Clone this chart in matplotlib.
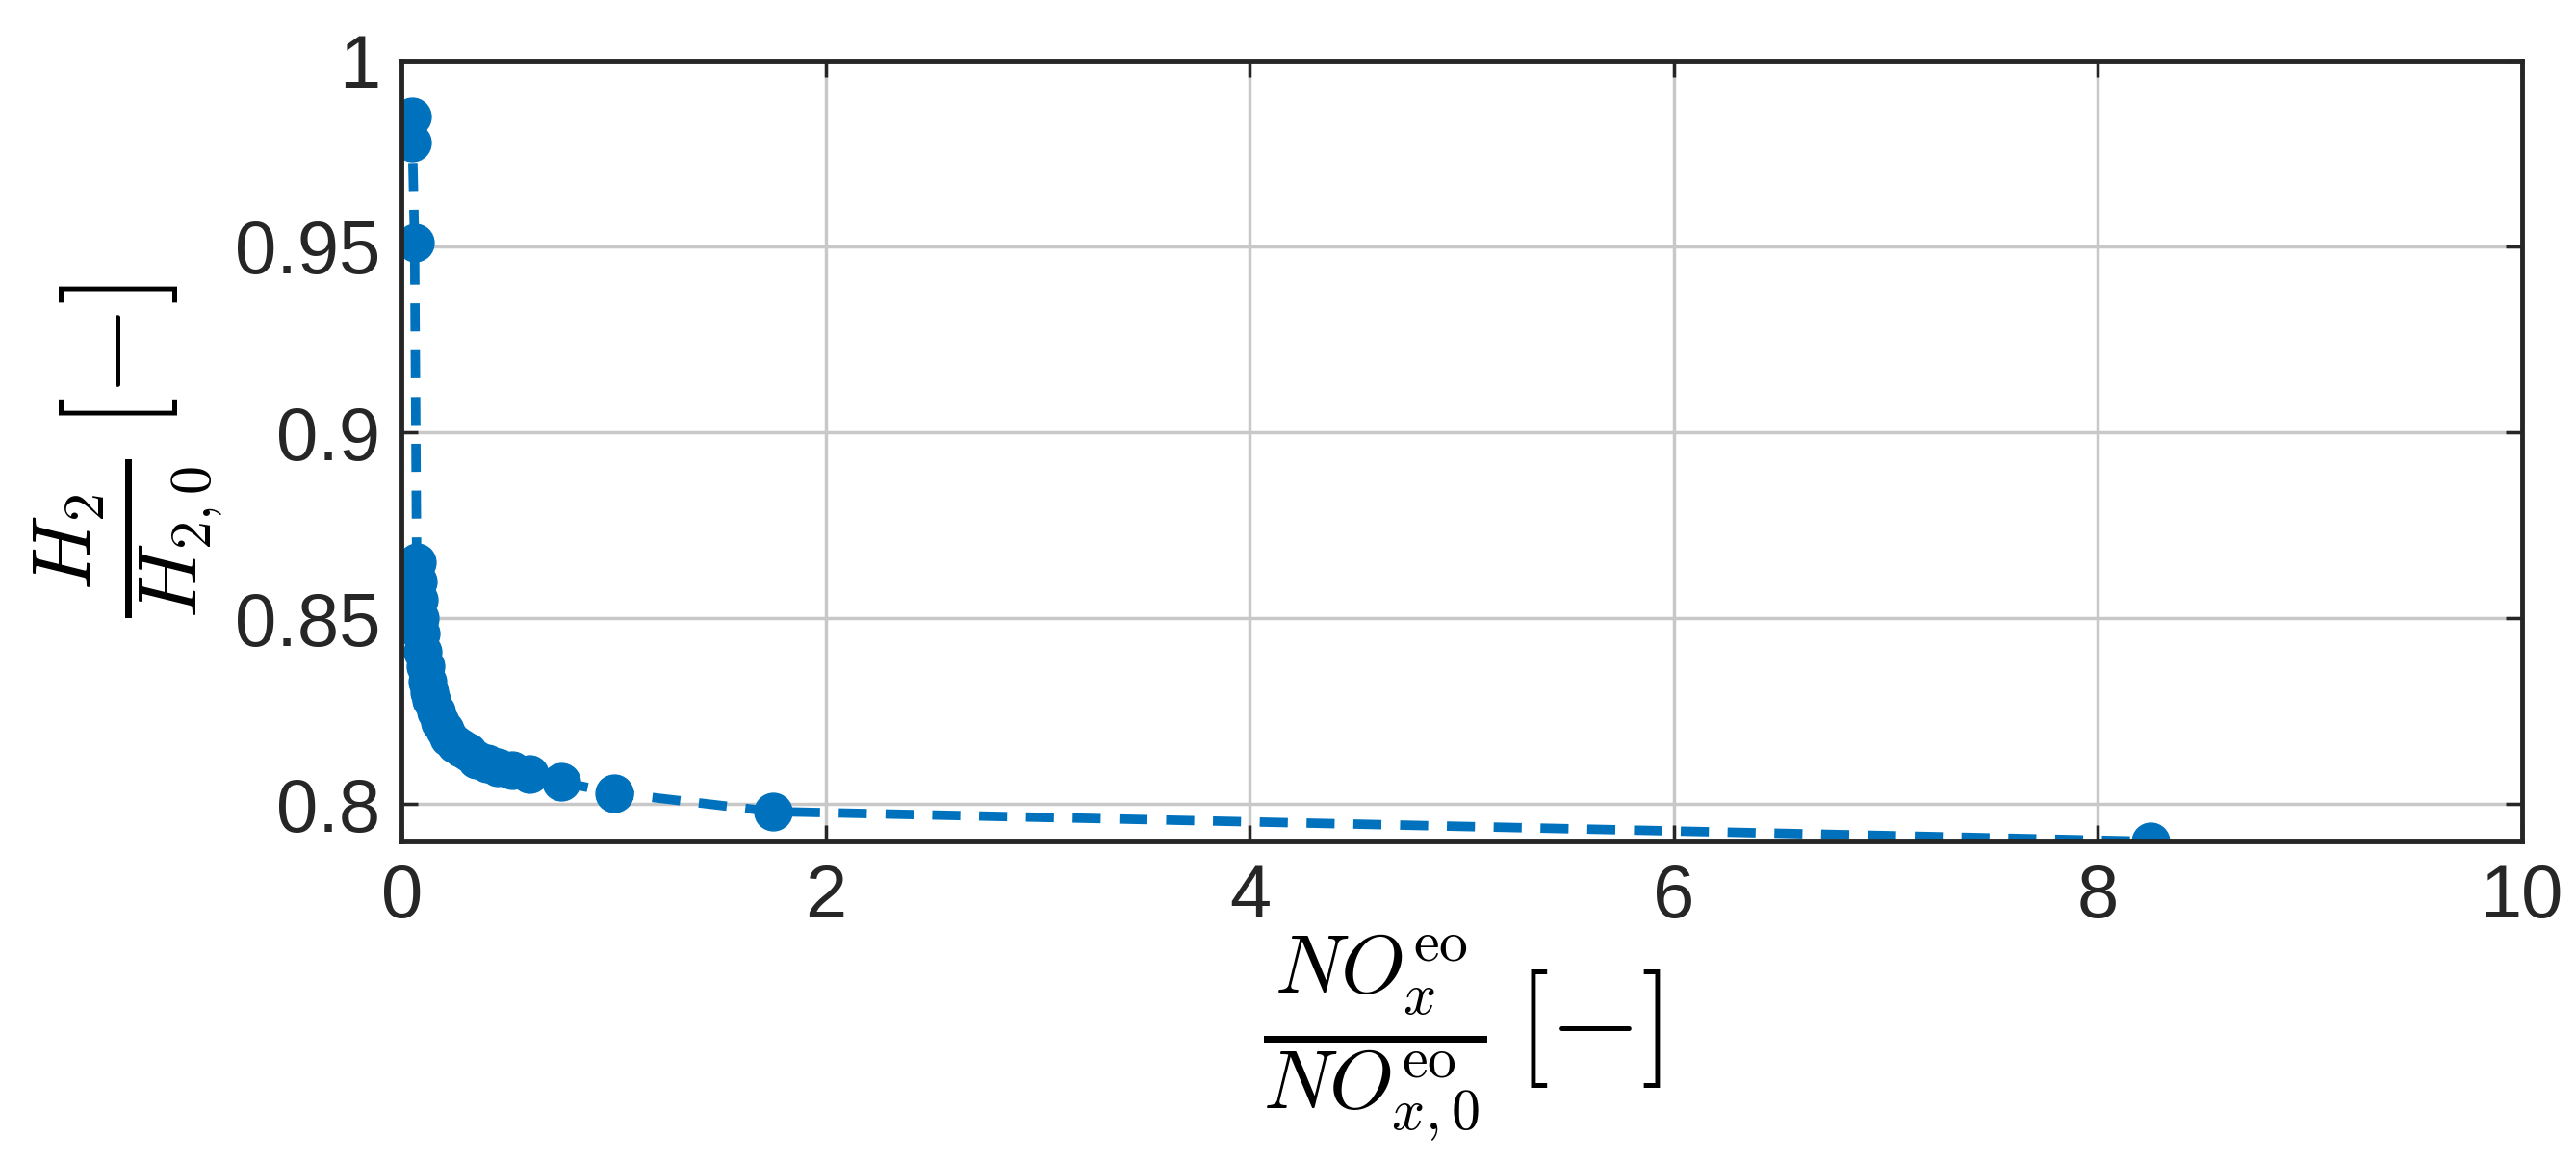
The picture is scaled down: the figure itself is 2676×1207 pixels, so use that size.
import matplotlib
matplotlib.use("Agg")
import matplotlib.pyplot as plt

x = [0.05,0.05,0.06,0.07,0.075,0.08,0.085,0.09,0.10,0.11,0.12,0.13,0.14,0.16,0.18,0.20,0.22,0.25,0.28,0.31,0.35,0.40,0.45,0.52,0.60,0.75,1.0,1.75,8.25]
y = [0.985,0.978,0.951,0.865,0.860,0.855,0.850,0.846,0.841,0.837,0.833,0.830,0.828,0.825,0.822,0.820,0.818,0.816,0.815,0.814,0.812,0.811,0.810,0.809,0.808,0.806,0.803,0.798,0.790]
xticks = [0, 2, 4, 6, 8, 10]
yticks = [0.8, 0.85, 0.9, 0.95, 1.0]
yticklabels = ["0.8", "0.85", "0.9", "0.95", "1"]

plt.rcParams['font.family'] = ['Liberation Sans', 'DejaVu Sans']
plt.rcParams['mathtext.fontset'] = 'cm'
fig = plt.figure(figsize=(26.76, 12.07), dpi=100)
ax = fig.add_axes([0.156, 0.276, 0.823, 0.672])
c = '#0072BD'
ax.plot(x, y, '--', color=c, lw=7, dashes=(3, 2))
ax.plot(x, y, 'o', color=c, ms=28, ls='none')
ax.set_xlim(0, 10)
ax.set_ylim(0.79, 1.0)
ax.set_xticks(xticks)
ax.set_yticks(yticks)
ax.set_yticklabels(yticklabels)
ax.grid(True, color='#c8c8c8', lw=2.5)
ax.set_axisbelow(True)
ax.tick_params(direction='in', top=True, right=True, labelsize=56, length=12, width=2.5, colors='#262626', pad=16)
for s in ax.spines.values():
    s.set_linewidth(3.5)
    s.set_color('#262626')
ax.set_xlabel(r'$\frac{NO_x^{\rm eo}}{NO_{x,0}^{\rm eo}}\,[-]$', fontsize=88, labelpad=0)
ax.set_ylabel(r'$\frac{H_2}{H_{2,0}}\,[-]$', fontsize=88, labelpad=6)
fig.savefig('out.png', dpi=100)
